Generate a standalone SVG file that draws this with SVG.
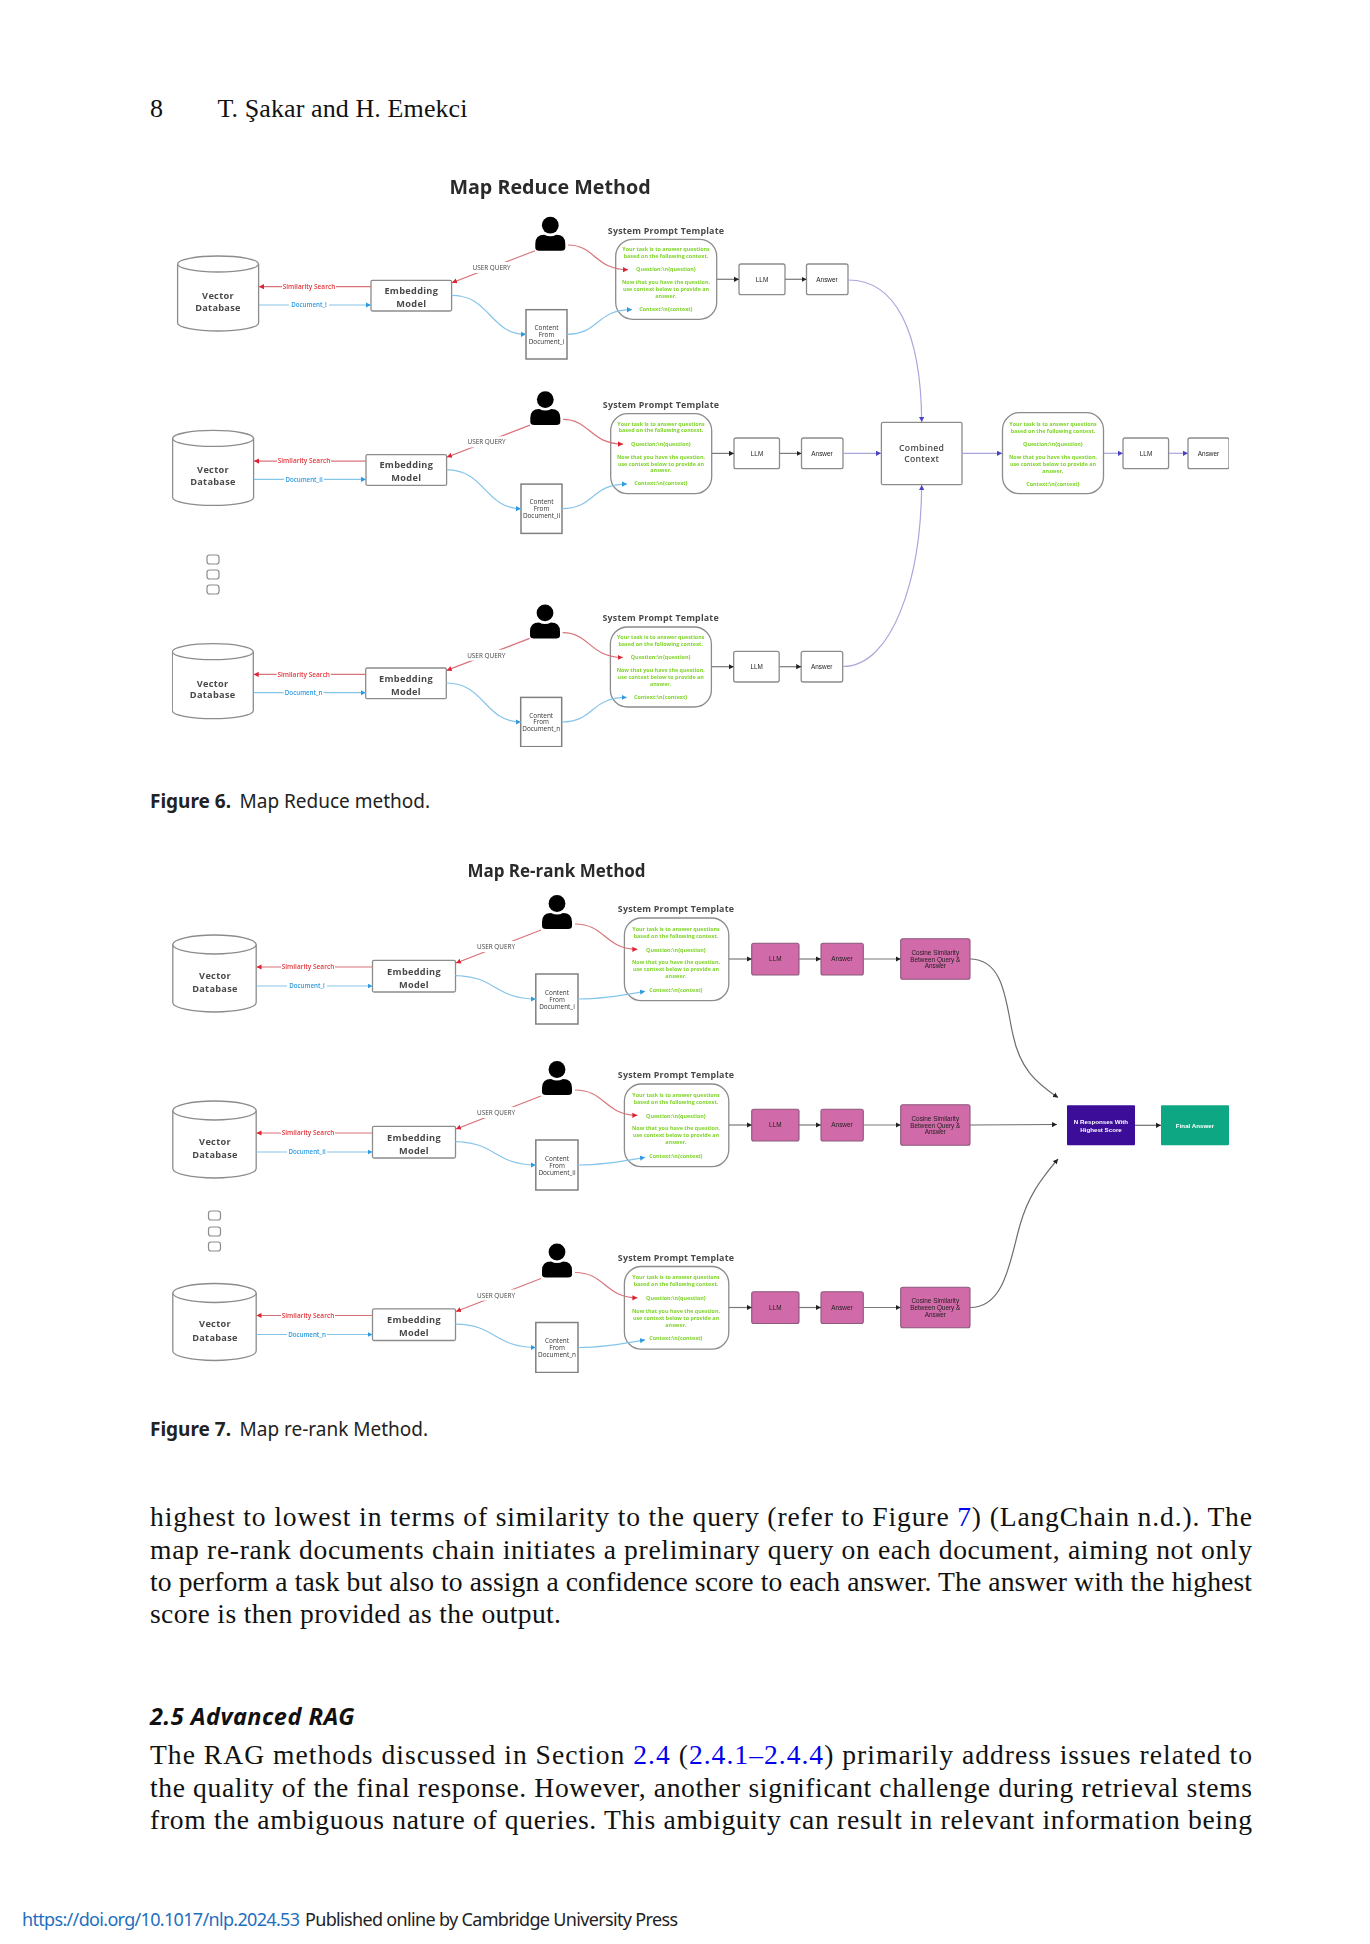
<svg xmlns="http://www.w3.org/2000/svg" width="1370" height="1944" viewBox="0 0 1370 1944">
<style>
.pg{font-family:"Liberation Serif",serif;fill:#111}
.body{font-size:27.6px}
.cap{font-family:"Noto Sans",sans-serif;font-size:19px;fill:#222}
.capb{font-weight:700}
.ttl{font-family:"Open Sans",sans-serif;font-weight:700;fill:#2b2b2b;text-anchor:middle}
.box{fill:#fff;stroke:#8c8c8c;stroke-width:1.3}
.doc{fill:#fff;stroke:#808080;stroke-width:1.5}
.pink{fill:#d16aa8;stroke:#8a5a7c;stroke-width:1.1}
.t{font-family:"Open Sans",sans-serif;text-anchor:middle;fill:#4a4a4a}
.nm{font-size:9.2px;font-weight:700;letter-spacing:.3px}
.nmc{font-size:8.7px;font-weight:600;letter-spacing:.3px}
.sm{font-size:6.4px;fill:#333}
.sm2{font-size:6.4px;fill:#222;font-family:"Liberation Sans",sans-serif}
.spt{font-size:8.9px;font-weight:700;letter-spacing:.2px}
.gr{font-family:"Open Sans",sans-serif;font-size:5.4px;font-weight:700;fill:#7fd42a;text-anchor:middle}
.lab{font-family:"Open Sans",sans-serif;font-size:6.5px;font-weight:600;text-anchor:middle}
.lab2{font-family:"Open Sans",sans-serif;font-size:6.2px;font-weight:600;text-anchor:middle}
.red{fill:#e2353a}.blu{fill:#2f9be0}
.bg{fill:#fff;stroke:none}
.c{fill:none;stroke-width:1.2}
.cr{stroke:#d9737a;marker-end:url(#mr)}
.cb{stroke:#86c5ea;marker-end:url(#mb)}
.ck{stroke:#7a7a7a;marker-end:url(#mk)}
.cp{stroke:#a9a6dc;marker-end:url(#mp)}
.cg{stroke:#6e6e6e;marker-end:url(#mk)}
.uq{font-size:6.4px;fill:#444}
.dot{fill:#fff;stroke:#8c8c8c;stroke-width:1.2}
.wt{font-family:"Liberation Sans",sans-serif;font-size:6.2px;font-weight:700;fill:#fff;text-anchor:middle}
</style>
<defs>
<marker id="mr" markerUnits="userSpaceOnUse" markerWidth="6" markerHeight="6" refX="5" refY="3" orient="auto"><path d="M0,.4L5,3L0,5.6z" fill="#e02030"/></marker>
<marker id="mb" markerUnits="userSpaceOnUse" markerWidth="6" markerHeight="6" refX="5" refY="3" orient="auto"><path d="M0,.4L5,3L0,5.6z" fill="#2f9be0"/></marker>
<marker id="mk" markerUnits="userSpaceOnUse" markerWidth="6" markerHeight="6" refX="5" refY="3" orient="auto"><path d="M0,.4L5,3L0,5.6z" fill="#222"/></marker>
<marker id="mp" markerUnits="userSpaceOnUse" markerWidth="6" markerHeight="6" refX="5" refY="3" orient="auto"><path d="M0,.4L5,3L0,5.6z" fill="#4a44c0"/></marker>
<filter id="soft" x="0" y="0" width="100%" height="100%" filterUnits="objectBoundingBox"><feGaussianBlur stdDeviation="0.35"/></filter>
<g id="person"><circle cx="0" cy="8.5" r="8.4" fill="#000"/><path d="M-15,34V27Q-15,18 -6,18Q0,21 6,18Q15,18 15,27V31Q15,34 11,34H-11Q-15,34 -15,31Z" fill="#000"/></g>
</defs>

<g id="page-header">
<text class="pg" x="150" y="117" font-size="26">8</text>
<text class="pg" x="217.500" y="117" font-size="26" textLength="250">T. Şakar and H. Emekci</text>
</g>

<g id="figure-6" filter="url(#soft)">
<text class="ttl" x="550" y="193.500" font-size="19.700">Map Reduce Method</text>

<g id="fig6-row1">
<g id="f6-db-1"><path class="box" d="M177.600,264V323A40.500,8 0 0 0 258.600,323V264"/><ellipse class="box" cx="218.100" cy="264" rx="40.500" ry="8"/><text class="t nm" x="218" y="299">Vector</text><text class="t nm" x="218" y="310.500">Database</text></g>
<g id="f6-embed-1"><rect class="box" x="371" y="280.300" width="80.600" height="30.700" rx="1.500"/><text class="t nm" x="411.300" y="294">Embedding</text><text class="t nm" x="411.300" y="307">Model</text></g>
<g id="f6-user-1"><use href="#person" x="550.300" y="216.700"/></g>
<g id="f6-doc-1"><rect class="doc" x="526" y="309.700" width="41" height="49.300"/><text class="t sm" x="546.500" y="330">Content</text><text class="t sm" x="546.500" y="336.700">From</text><text class="t sm" x="546.500" y="343.500">Document_i</text></g>
<g id="f6-prompt-1"><text class="t spt" x="666" y="233.500">System Prompt Template</text><rect class="box" x="615.700" y="239.300" width="101" height="80" rx="17"/>
<text class="gr" x="666" y="251.400">Your task is to answer questions</text><text class="gr" x="666" y="258">based on the following context.</text><text class="gr" x="666" y="271.400">Question:\n{question}</text><text class="gr" x="666" y="284.400">Now that you have the question,</text><text class="gr" x="666" y="291.400">use context below to provide an</text><text class="gr" x="666" y="298">answer.</text><text class="gr" x="666" y="311">Context:\n{context}</text></g>
<g id="f6-llm-1"><rect class="box" x="739" y="264" width="46" height="30.700" rx="2"/><text class="t sm2" x="762" y="282">LLM</text></g>
<g id="f6-ans-1"><rect class="box" x="806.500" y="264" width="41.500" height="30.700" rx="2"/><text class="t sm2" x="827" y="282">Answer</text></g>
</g>

<g id="fig6-row2" transform="translate(-5,174.400)">
<g id="f6-db-2"><path class="box" d="M177.600,264V323A40.500,8 0 0 0 258.600,323V264"/><ellipse class="box" cx="218.100" cy="264" rx="40.500" ry="8"/><text class="t nm" x="218" y="299">Vector</text><text class="t nm" x="218" y="310.500">Database</text></g>
<g id="f6-embed-2"><rect class="box" x="371" y="280.300" width="80.600" height="30.700" rx="1.500"/><text class="t nm" x="411.300" y="294">Embedding</text><text class="t nm" x="411.300" y="307">Model</text></g>
<g id="f6-user-2"><use href="#person" x="550.300" y="216.700"/></g>
<g id="f6-doc-2"><rect class="doc" x="526" y="309.700" width="41" height="49.300"/><text class="t sm" x="546.500" y="330">Content</text><text class="t sm" x="546.500" y="336.700">From</text><text class="t sm" x="546.500" y="343.500">Document_ii</text></g>
<g id="f6-prompt-2"><text class="t spt" x="666" y="233.500">System Prompt Template</text><rect class="box" x="615.700" y="239.300" width="101" height="80" rx="17"/>
<text class="gr" x="666" y="251.400">Your task is to answer questions</text><text class="gr" x="666" y="258">based on the following context.</text><text class="gr" x="666" y="271.400">Question:\n{question}</text><text class="gr" x="666" y="284.400">Now that you have the question,</text><text class="gr" x="666" y="291.400">use context below to provide an</text><text class="gr" x="666" y="298">answer.</text><text class="gr" x="666" y="311">Context:\n{context}</text></g>
<g id="f6-llm-2"><rect class="box" x="739" y="263.600" width="45.500" height="30.700" rx="2"/><text class="t sm2" x="762" y="281.500">LLM</text></g>
<g id="f6-ans-2"><rect class="box" x="806.500" y="263.600" width="41.500" height="30.700" rx="2"/><text class="t sm2" x="827" y="281.500">Answer</text></g>
</g>

<g id="fig6-row3" transform="translate(-5.300,387.700)">
<g id="f6-db-3"><path class="box" d="M177.600,264V323A40.500,8 0 0 0 258.600,323V264"/><ellipse class="box" cx="218.100" cy="264" rx="40.500" ry="8"/><text class="t nm" x="218" y="299">Vector</text><text class="t nm" x="218" y="310.500">Database</text></g>
<g id="f6-embed-3"><rect class="box" x="371" y="280.300" width="80.600" height="30.700" rx="1.500"/><text class="t nm" x="411.300" y="294">Embedding</text><text class="t nm" x="411.300" y="307">Model</text></g>
<g id="f6-user-3"><use href="#person" x="550.300" y="216.700"/></g>
<g id="f6-doc-3"><rect class="doc" x="526" y="309.700" width="41" height="49.300"/><text class="t sm" x="546.500" y="330">Content</text><text class="t sm" x="546.500" y="336.700">From</text><text class="t sm" x="546.500" y="343.500">Document_n</text></g>
<g id="f6-prompt-3"><text class="t spt" x="666" y="233.500">System Prompt Template</text><rect class="box" x="615.700" y="239.300" width="101" height="80" rx="17"/>
<text class="gr" x="666" y="251.400">Your task is to answer questions</text><text class="gr" x="666" y="258">based on the following context.</text><text class="gr" x="666" y="271.400">Question:\n{question}</text><text class="gr" x="666" y="284.400">Now that you have the question,</text><text class="gr" x="666" y="291.400">use context below to provide an</text><text class="gr" x="666" y="298">answer.</text><text class="gr" x="666" y="311">Context:\n{context}</text></g>
<g id="f6-llm-3"><rect class="box" x="739" y="263.600" width="45.500" height="30.700" rx="2"/><text class="t sm2" x="762" y="281.500">LLM</text></g>
<g id="f6-ans-3"><rect class="box" x="806.500" y="263.600" width="41.500" height="30.700" rx="2"/><text class="t sm2" x="827" y="281.500">Answer</text></g>
</g>

<g id="f6-dots"><rect class="dot" x="207" y="555" width="12" height="9" rx="2.500"/><rect class="dot" x="207" y="570" width="12" height="9" rx="2.500"/><rect class="dot" x="207" y="585" width="12" height="9" rx="2.500"/></g>
<g id="f6-combined"><rect class="box" x="881.400" y="422.300" width="80.600" height="62.400" rx="1.500"/><text class="t nmc" x="921.700" y="451">Combined</text><text class="t nmc" x="921.700" y="462">Context</text></g>
<g id="f6-final-prompt"><rect class="box" x="1002.500" y="412.700" width="101" height="81" rx="17"/>
<text class="gr" x="1053" y="426">Your task is to answer questions</text><text class="gr" x="1053" y="433">based on the following context.</text><text class="gr" x="1053" y="446">Question:\n{question}</text><text class="gr" x="1053" y="459">Now that you have the question,</text><text class="gr" x="1053" y="465.800">use context below to provide an</text><text class="gr" x="1053" y="472.500">answer.</text><text class="gr" x="1053" y="485.500">Context:\n{context}</text></g>
<g id="f6-final-llm"><rect class="box" x="1123" y="438" width="45.600" height="30.700" rx="2"/><text class="t sm2" x="1146" y="455.500">LLM</text></g>
<g id="f6-final-ans"><rect class="box" x="1188" y="438" width="41" height="30.700" rx="2"/><text class="t sm2" x="1208.500" y="455.500">Answer</text></g>

<g id="fig6-connectors">
<g id="fig6-c-row1">
<path class="c cr" d="M371,286.700H259"/><path class="c cb" d="M259,305H371"/>
<path class="c cr" d="M535,250.700L452,282.700"/>
<path class="c cr" d="M568,245C595,245 595,269.700 628,269.700"/>
<path class="c cb" d="M451.600,295.300C490,295.300 490,334.300 526,334.300"/>
<path class="c cb" d="M567,334.300C600,334.300 595,309.700 632,309.700"/>
<rect class="bg" x="282" y="281" width="54" height="11"/><text class="lab red" x="309" y="289.100">Similarity Search</text>
<rect class="bg" x="289" y="299" width="40" height="11"/><text class="lab2 blu" x="309" y="307.300">Document_i</text>
<rect class="bg" x="472" y="262" width="40" height="11"/><text class="t uq" x="491.500" y="270">USER QUERY</text>
<path class="c ck" d="M717,279.300H739"/><path class="c ck" d="M785,279.300H806.500"/>
</g>
<g id="fig6-c-row2" transform="translate(-5,174.400)">
<path class="c cr" d="M371,286.700H259"/><path class="c cb" d="M259,305H371"/>
<path class="c cr" d="M535,250.700L452,282.700"/>
<path class="c cr" d="M568,245C595,245 595,269.700 628,269.700"/>
<path class="c cb" d="M451.600,295.300C490,295.300 490,334.300 526,334.300"/>
<path class="c cb" d="M567,334.300C600,334.300 595,309.700 632,309.700"/>
<rect class="bg" x="282" y="281" width="54" height="11"/><text class="lab red" x="309" y="289.100">Similarity Search</text>
<rect class="bg" x="289" y="299" width="40" height="11"/><text class="lab2 blu" x="309" y="307.300">Document_ii</text>
<rect class="bg" x="472" y="262" width="40" height="11"/><text class="t uq" x="491.500" y="270">USER QUERY</text>
<path class="c ck" d="M717,279H739"/><path class="c ck" d="M785,279H806.500"/>
</g>
<g id="fig6-c-row3" transform="translate(-5.300,387.700)">
<path class="c cr" d="M371,286.700H259"/><path class="c cb" d="M259,305H371"/>
<path class="c cr" d="M535,250.700L452,282.700"/>
<path class="c cr" d="M568,245C595,245 595,269.700 628,269.700"/>
<path class="c cb" d="M451.600,295.300C490,295.300 490,334.300 526,334.300"/>
<path class="c cb" d="M567,334.300C600,334.300 595,309.700 632,309.700"/>
<rect class="bg" x="282" y="281" width="54" height="11"/><text class="lab red" x="309" y="289.100">Similarity Search</text>
<rect class="bg" x="289" y="299" width="40" height="11"/><text class="lab2 blu" x="309" y="307.300">Document_n</text>
<rect class="bg" x="472" y="262" width="40" height="11"/><text class="t uq" x="491.500" y="270">USER QUERY</text>
<path class="c ck" d="M717,279H739"/><path class="c ck" d="M785,279H806.500"/>
</g>
<path class="c cp" d="M848,280C895,280 921,330 921.700,422"/>
<path class="c cp" d="M843,666.500C892,666.500 921,580 921.700,485"/>
<path class="c cp" d="M843,453.300H881"/>
<path class="c cp" d="M962,453.300H1002"/>
<path class="c cp" d="M1104,453.300H1123"/>
<path class="c cp" d="M1169,453.300H1188"/>
</g>
</g>

<g id="caption-6"><text class="cap capb" x="150" y="808">Figure 6.</text><text class="cap" x="239.500" y="808">Map Reduce method.</text></g>

<g id="figure-7" filter="url(#soft)">
<text class="ttl" x="556.500" y="876.500" font-size="17">Map Re-rank Method</text>

<g id="fig7-row1">
<g id="f7-db-1"><path class="box" d="M172.800,944.500V1002.500A41.700,9.500 0 0 0 256.200,1002.500V944.500"/><ellipse class="box" cx="214.500" cy="944.500" rx="41.700" ry="9.500"/><text class="t nm" x="215" y="978.800">Vector</text><text class="t nm" x="215" y="992">Database</text></g>
<g id="f7-embed-1"><rect class="box" x="372.500" y="960.300" width="83" height="31.700" rx="1.500"/><text class="t nm" x="414" y="974.700">Embedding</text><text class="t nm" x="414" y="987.500">Model</text></g>
<g id="f7-user-1"><use href="#person" x="557" y="895"/></g>
<g id="f7-doc-1"><rect class="doc" x="535.800" y="974" width="42.200" height="50"/><text class="t sm" x="557" y="994.500">Content</text><text class="t sm" x="557" y="1001.500">From</text><text class="t sm" x="557" y="1008.500">Document_i</text></g>
<g id="f7-prompt-1"><text class="t spt" x="676" y="912">System Prompt Template</text><rect class="box" x="624.400" y="918" width="104.400" height="82.700" rx="17"/>
<text class="gr" x="676" y="930.500">Your task is to answer questions</text><text class="gr" x="676" y="937.500">based on the following context.</text><text class="gr" x="676" y="951.500">Question:\n{question}</text><text class="gr" x="676" y="964.200">Now that you have the question,</text><text class="gr" x="676" y="971.200">use context below to provide an</text><text class="gr" x="676" y="978.200">answer.</text><text class="gr" x="676" y="991.900">Context:\n{context}</text></g>
<g id="f7-llm-1"><rect class="pink" x="751.700" y="943.300" width="47.300" height="31.700" rx="2"/><text class="t sm2" x="775.300" y="961.300">LLM</text></g>
<g id="f7-ans-1"><rect class="pink" x="821" y="943.300" width="42.300" height="31.700" rx="2"/><text class="t sm2" x="842" y="961.300">Answer</text></g>
<g id="f7-cos-1"><rect class="pink" x="900.700" y="938.700" width="69.300" height="40.600" rx="2"/><text class="t sm2" x="935.300" y="954.800">Cosine Similarity</text><text class="t sm2" x="935.300" y="961.500">Between Query &amp;</text><text class="t sm2" x="935.300" y="968.200">Answer</text></g>
</g>

<g id="fig7-row2" transform="translate(0,166)">
<g id="f7-db-2"><path class="box" d="M172.800,944.500V1002.500A41.700,9.500 0 0 0 256.200,1002.500V944.500"/><ellipse class="box" cx="214.500" cy="944.500" rx="41.700" ry="9.500"/><text class="t nm" x="215" y="978.800">Vector</text><text class="t nm" x="215" y="992">Database</text></g>
<g id="f7-embed-2"><rect class="box" x="372.500" y="960.300" width="83" height="31.700" rx="1.500"/><text class="t nm" x="414" y="974.700">Embedding</text><text class="t nm" x="414" y="987.500">Model</text></g>
<g id="f7-user-2"><use href="#person" x="557" y="895"/></g>
<g id="f7-doc-2"><rect class="doc" x="535.800" y="974" width="42.200" height="50"/><text class="t sm" x="557" y="994.500">Content</text><text class="t sm" x="557" y="1001.500">From</text><text class="t sm" x="557" y="1008.500">Document_ii</text></g>
<g id="f7-prompt-2"><text class="t spt" x="676" y="912">System Prompt Template</text><rect class="box" x="624.400" y="918" width="104.400" height="82.700" rx="17"/>
<text class="gr" x="676" y="930.500">Your task is to answer questions</text><text class="gr" x="676" y="937.500">based on the following context.</text><text class="gr" x="676" y="951.500">Question:\n{question}</text><text class="gr" x="676" y="964.200">Now that you have the question,</text><text class="gr" x="676" y="971.200">use context below to provide an</text><text class="gr" x="676" y="978.200">answer.</text><text class="gr" x="676" y="991.900">Context:\n{context}</text></g>
<g id="f7-llm-2"><rect class="pink" x="751.700" y="943.300" width="47.300" height="31.700" rx="2"/><text class="t sm2" x="775.300" y="961.300">LLM</text></g>
<g id="f7-ans-2"><rect class="pink" x="821" y="943.300" width="42.300" height="31.700" rx="2"/><text class="t sm2" x="842" y="961.300">Answer</text></g>
<g id="f7-cos-2"><rect class="pink" x="900.700" y="938.700" width="69.300" height="40.600" rx="2"/><text class="t sm2" x="935.300" y="954.800">Cosine Similarity</text><text class="t sm2" x="935.300" y="961.500">Between Query &amp;</text><text class="t sm2" x="935.300" y="968.200">Answer</text></g>
</g>

<g id="fig7-row3" transform="translate(0,348.500)">
<g id="f7-db-3"><path class="box" d="M172.800,944.500V1002.500A41.700,9.500 0 0 0 256.200,1002.500V944.500"/><ellipse class="box" cx="214.500" cy="944.500" rx="41.700" ry="9.500"/><text class="t nm" x="215" y="978.800">Vector</text><text class="t nm" x="215" y="992">Database</text></g>
<g id="f7-embed-3"><rect class="box" x="372.500" y="960.300" width="83" height="31.700" rx="1.500"/><text class="t nm" x="414" y="974.700">Embedding</text><text class="t nm" x="414" y="987.500">Model</text></g>
<g id="f7-user-3"><use href="#person" x="557" y="895"/></g>
<g id="f7-doc-3"><rect class="doc" x="535.800" y="974" width="42.200" height="50"/><text class="t sm" x="557" y="994.500">Content</text><text class="t sm" x="557" y="1001.500">From</text><text class="t sm" x="557" y="1008.500">Document_n</text></g>
<g id="f7-prompt-3"><text class="t spt" x="676" y="912">System Prompt Template</text><rect class="box" x="624.400" y="918" width="104.400" height="82.700" rx="17"/>
<text class="gr" x="676" y="930.500">Your task is to answer questions</text><text class="gr" x="676" y="937.500">based on the following context.</text><text class="gr" x="676" y="951.500">Question:\n{question}</text><text class="gr" x="676" y="964.200">Now that you have the question,</text><text class="gr" x="676" y="971.200">use context below to provide an</text><text class="gr" x="676" y="978.200">answer.</text><text class="gr" x="676" y="991.900">Context:\n{context}</text></g>
<g id="f7-llm-3"><rect class="pink" x="751.700" y="943.300" width="47.300" height="31.700" rx="2"/><text class="t sm2" x="775.300" y="961.300">LLM</text></g>
<g id="f7-ans-3"><rect class="pink" x="821" y="943.300" width="42.300" height="31.700" rx="2"/><text class="t sm2" x="842" y="961.300">Answer</text></g>
<g id="f7-cos-3"><rect class="pink" x="900.700" y="938.700" width="69.300" height="40.600" rx="2"/><text class="t sm2" x="935.300" y="954.800">Cosine Similarity</text><text class="t sm2" x="935.300" y="961.500">Between Query &amp;</text><text class="t sm2" x="935.300" y="968.200">Answer</text></g>
</g>

<g id="f7-dots"><rect class="dot" x="208.500" y="1211" width="12" height="9" rx="2.500"/><rect class="dot" x="208.500" y="1227" width="12" height="9" rx="2.500"/><rect class="dot" x="208.500" y="1242" width="12" height="9" rx="2.500"/></g>
<g id="f7-nresp"><rect x="1067" y="1105.300" width="68" height="40" rx="1" fill="#3a0a99"/><text class="wt" x="1101" y="1123.500">N Responses With</text><text class="wt" x="1101" y="1131.500">Highest Score</text></g>
<g id="f7-final"><rect x="1161" y="1105.300" width="68" height="40" rx="1" fill="#0ea883"/><text class="wt" x="1195" y="1127.500">Final Answer</text></g>

<g id="fig7-connectors">
<g id="fig7-c-row1">
<path class="c cr" d="M372.500,967H256.500"/><path class="c cb" d="M256.500,986H372.500"/>
<path class="c cr" d="M541,930L456,963"/>
<path class="c cr" d="M575,924C605,924 605,949.300 637.400,949.300"/>
<path class="c cb" d="M455.500,975.700C495,975.700 495,999 535.800,999"/>
<path class="c cb" d="M578,999C600,999 620,996 645,991.300"/>
<rect class="bg" x="281" y="961" width="54" height="11"/><text class="lab red" x="308" y="969.400">Similarity Search</text>
<rect class="bg" x="287" y="980" width="40" height="11"/><text class="lab2 blu" x="307" y="988.300">Document_i</text>
<rect class="bg" x="476" y="941" width="40" height="11"/><text class="t uq" x="496" y="949.400">USER QUERY</text>
<path class="c ck" d="M729,959H752"/><path class="c ck" d="M799,959H821"/><path class="c ck" d="M863.300,959H900.700"/>
</g>
<g id="fig7-c-row2" transform="translate(0,166)">
<path class="c cr" d="M372.500,967H256.500"/><path class="c cb" d="M256.500,986H372.500"/>
<path class="c cr" d="M541,930L456,963"/>
<path class="c cr" d="M575,924C605,924 605,949.300 637.400,949.300"/>
<path class="c cb" d="M455.500,975.700C495,975.700 495,999 535.800,999"/>
<path class="c cb" d="M578,999C600,999 620,996 645,991.300"/>
<rect class="bg" x="281" y="961" width="54" height="11"/><text class="lab red" x="308" y="969.400">Similarity Search</text>
<rect class="bg" x="287" y="980" width="40" height="11"/><text class="lab2 blu" x="307" y="988.300">Document_ii</text>
<rect class="bg" x="476" y="941" width="40" height="11"/><text class="t uq" x="496" y="949.400">USER QUERY</text>
<path class="c ck" d="M729,959H752"/><path class="c ck" d="M799,959H821"/><path class="c ck" d="M863.300,959H900.700"/>
</g>
<g id="fig7-c-row3" transform="translate(0,348.500)">
<path class="c cr" d="M372.500,967H256.500"/><path class="c cb" d="M256.500,986H372.500"/>
<path class="c cr" d="M541,930L456,963"/>
<path class="c cr" d="M575,924C605,924 605,949.300 637.400,949.300"/>
<path class="c cb" d="M455.500,975.700C495,975.700 495,999 535.800,999"/>
<path class="c cb" d="M578,999C600,999 620,996 645,991.300"/>
<rect class="bg" x="281" y="961" width="54" height="11"/><text class="lab red" x="308" y="969.400">Similarity Search</text>
<rect class="bg" x="287" y="980" width="40" height="11"/><text class="lab2 blu" x="307" y="988.300">Document_n</text>
<rect class="bg" x="476" y="941" width="40" height="11"/><text class="t uq" x="496" y="949.400">USER QUERY</text>
<path class="c ck" d="M729,959H752"/><path class="c ck" d="M799,959H821"/><path class="c ck" d="M863.300,959H900.700"/>
</g>
<path class="c cg" d="M970,959C1005,959 1006,1005 1013,1035C1020,1068 1035,1082 1058,1097.500"/>
<path class="c cg" d="M970,1125L1057,1124.500"/>
<path class="c cg" d="M970,1307.500C1005,1307.500 1010,1260 1020,1225C1028,1197 1040,1180 1058,1159"/>
<path class="c cg" d="M1135,1125.300H1161"/>
</g>
</g>

<g id="caption-7"><text class="cap capb" x="150" y="1435.500">Figure 7.</text><text class="cap" x="239.500" y="1435.500">Map re-rank Method.</text></g>

<g id="body-text">
<text class="pg body" x="150" y="1526" textLength="1102">highest to lowest in terms of similarity to the query (refer to Figure <tspan fill="#0000ee">7</tspan>) (LangChain n.d.). The</text>
<text class="pg body" x="150" y="1558.500" textLength="1102">map re-rank documents chain initiates a preliminary query on each document, aiming not only</text>
<text class="pg body" x="150" y="1591" textLength="1102">to perform a task but also to assign a confidence score to each answer. The answer with the highest</text>
<text class="pg body" x="150" y="1623" textLength="411">score is then provided as the output.</text>
<text x="150" y="1725.300" font-family="'Noto Sans',sans-serif" font-size="23.500" font-weight="700" font-style="italic" fill="#111" textLength="204.500">2.5 Advanced RAG</text>
<text class="pg body" x="150" y="1764.200" textLength="1102">The RAG methods discussed in Section <tspan fill="#0000ee">2.4</tspan> (<tspan fill="#0000ee">2.4.1–2.4.4</tspan>) primarily address issues related to</text>
<text class="pg body" x="150" y="1796.700" textLength="1102">the quality of the final response. However, another significant challenge during retrieval stems</text>
<text class="pg body" x="150" y="1829" textLength="1102">from the ambiguous nature of queries. This ambiguity can result in relevant information being</text>
</g>

<g id="page-footer" font-family="'Noto Sans',sans-serif" font-size="18">
<text x="22" y="1925.500" fill="#1f6fc0" textLength="278">https://doi.org/10.1017/nlp.2024.53</text>
<text x="305" y="1925.500" fill="#222" textLength="373">Published online by Cambridge University Press</text>
</g>
</svg>
